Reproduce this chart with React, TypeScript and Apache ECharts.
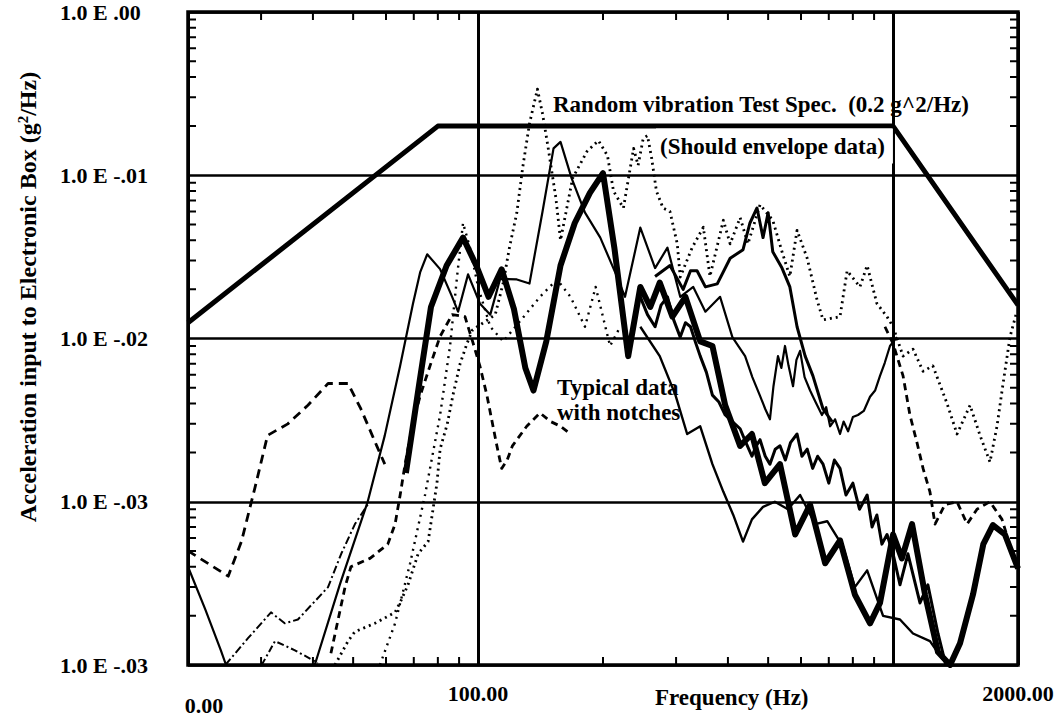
import React, { useEffect, useRef } from 'react';
import * as echarts from 'echarts';

// Chart size and plot frame
const WIDTH = 1063;
const HEIGHT = 716;
const GRID = { left: 188, right: 45, top: 12, bottom: 44 };

// Axis ranges (log scales)
const X_MIN = 20;
const X_MAX = 2000;
const Y_MIN = 1e-4;
const Y_MAX = 1;

// Printed tick labels
const xTickLabels: Record<number, string> = { 20: '0.00', 100: '100.00', 2000: '2000.00' };
const yTickLabels = ['1.0 E -.03', '1.0 E -.03', '1.0 E -.02', '1.0 E -.01', '1.0 E .00'];

// Minor tick marks drawn around the frame
const xMinorTicks = [30, 40, 50, 60, 70, 80, 90, 200, 300, 400, 500, 600, 700, 800, 900];
const yMinorTicks = [
  0.0002, 0.0003, 0.0004, 0.0005, 0.0006, 0.0007, 0.0008, 0.0009,
  0.002, 0.003, 0.004, 0.005, 0.006, 0.007, 0.008, 0.009,
  0.02, 0.03, 0.04, 0.05, 0.06, 0.07, 0.08, 0.09,
  0.2, 0.3, 0.4, 0.5, 0.6, 0.7, 0.8, 0.9,
];

// Random vibration test specification [Hz, g^2/Hz]
const specEnvelope = [[20, 0.0125], [80, 0.2], [1000, 0.2], [2000, 0.016]];

// Measured responses [Hz, g^2/Hz]
const notchedResponse = [
  [67, 0.0015], [72, 0.0051], [77, 0.0156], [84, 0.028], [92, 0.0415], [99, 0.028], [106, 0.018],
  [114, 0.0265], [122, 0.0152], [130, 0.0066], [136, 0.0048], [146, 0.0096], [158, 0.028], [171, 0.051],
  [186, 0.078], [200, 0.103], [213, 0.036], [230, 0.0078], [246, 0.0207], [260, 0.0156], [274, 0.022],
  [294, 0.0136], [316, 0.018], [343, 0.0096], [367, 0.009], [394, 0.0039], [428, 0.0022], [457, 0.0026],
  [491, 0.0013], [534, 0.0017], [581, 0.00063], [631, 0.00096], [686, 0.00042], [745, 0.00058],
  [809, 0.00027], [880, 0.00018], [930, 0.00024], [1000, 0.00063], [1050, 0.00045], [1111, 0.00073],
  [1194, 0.00027], [1283, 0.00012], [1372, 0.0001], [1450, 0.000136], [1558, 0.00027], [1650, 0.00055],
  [1740, 0.00072], [1860, 0.00063], [2000, 0.00039],
];

const upperResponse = [
  [40.4, 0.0001], [46.5, 0.000314], [54.2, 0.001], [59.6, 0.00255], [64.9, 0.0068], [69.7, 0.0164],
  [72.5, 0.0254], [75.4, 0.0328], [81, 0.0266], [86.6, 0.018], [89.5, 0.0146], [94.6, 0.0247],
  [101, 0.0164], [107, 0.014], [113, 0.0232], [124, 0.023], [133, 0.0217], [143, 0.06], [152, 0.146],
  [158, 0.16], [168, 0.096], [181, 0.059], [197, 0.0415], [214, 0.0254], [226, 0.018], [246, 0.0478],
  [267, 0.027], [286, 0.036], [307, 0.018], [330, 0.0207], [353, 0.0146], [383, 0.018], [410, 0.0102],
  [440, 0.0078], [458, 0.0058], [478, 0.00445], [492, 0.0037], [505, 0.0032], [515, 0.0051],
  [528, 0.0078], [538, 0.0066], [549, 0.009], [560, 0.0068], [574, 0.0051], [585, 0.0074],
  [597, 0.0084], [612, 0.0058], [631, 0.0048], [650, 0.0041], [674, 0.0034], [690, 0.0038],
  [705, 0.0029], [725, 0.0032], [745, 0.0026], [760, 0.0031], [779, 0.0027], [800, 0.0033],
  [823, 0.0034], [850, 0.0036], [880, 0.0044], [905, 0.0048], [930, 0.0059], [955, 0.0071],
  [983, 0.009], [1022, 0.0102],
];

const lowFreqDashed = [
  [20, 0.0005], [25, 0.00035], [26.9, 0.00057], [29, 0.00122], [31.1, 0.00255], [34.8, 0.003],
  [38.9, 0.0039], [43.5, 0.0053], [48.6, 0.0053], [52.2, 0.0037], [57, 0.0022], [59.6, 0.0017],
];

const risingDashed = [
  [44.2, 0.000118], [46, 0.00019], [47.8, 0.0003], [49.4, 0.0004], [54.9, 0.00045], [60.6, 0.00055],
  [63.1, 0.00073], [64.9, 0.0011], [66.7, 0.0017], [69.4, 0.0029], [72.5, 0.00445], [76.6, 0.0068],
  [81, 0.0103], [86.6, 0.014], [93, 0.0136], [97, 0.0096], [101, 0.0068], [105, 0.0045], [111, 0.0022],
  [114, 0.0016], [117.5, 0.0018], [121, 0.0022], [131, 0.0029], [141, 0.0035], [149.5, 0.0031],
  [158, 0.0029], [167, 0.0026],
];

const peakDotted = [
  [45.2, 0.0001], [48.6, 0.00014], [50.5, 0.00016], [56.4, 0.00018], [63.1, 0.00021], [65.3, 0.00025],
  [67.8, 0.00031], [71.7, 0.00048], [75.8, 0.00057], [79.6, 0.0013], [81, 0.0021], [84.3, 0.003],
  [87, 0.0045], [90.5, 0.007], [94, 0.0093], [97, 0.0113], [104, 0.0127], [110, 0.014], [115, 0.022],
  [119, 0.036], [124, 0.059], [128, 0.11], [133, 0.207], [139, 0.337], [143, 0.238], [147, 0.156],
  [154, 0.0725], [158, 0.04], [169, 0.096], [183, 0.14], [195, 0.163], [205, 0.132], [212, 0.08],
  [224, 0.063], [237, 0.146], [243, 0.115], [250, 0.168], [256, 0.175], [262, 0.127], [269, 0.08],
  [279, 0.063], [290, 0.06], [302, 0.038], [307, 0.0238], [328, 0.036], [349, 0.048], [362, 0.024],
  [390, 0.053], [405, 0.038], [428, 0.055], [447, 0.038], [478, 0.066], [513, 0.053], [540, 0.034],
  [564, 0.024], [587, 0.046], [621, 0.031], [656, 0.0172], [678, 0.013], [745, 0.0136], [775, 0.026],
  [832, 0.0207], [866, 0.028], [914, 0.0164], [967, 0.0136], [1000, 0.0118], [1057, 0.0078],
  [1117, 0.0086], [1181, 0.0063], [1247, 0.0068], [1349, 0.004], [1426, 0.0026], [1533, 0.0039],
  [1620, 0.00255], [1712, 0.00175], [1780, 0.0029], [1841, 0.0053], [1913, 0.0102], [1986, 0.0146],
];

const midDotted = [
  [58, 0.0001], [63.1, 0.00018], [68.6, 0.00042], [74.5, 0.0011], [81, 0.0034], [85.6, 0.009],
  [89, 0.024], [92, 0.051], [95.6, 0.036], [100, 0.0207], [107, 0.0118], [115, 0.0096], [126, 0.0127],
  [141, 0.018], [155, 0.023], [167, 0.018], [181, 0.0118], [192, 0.0207], [208, 0.009], [220, 0.0118],
];

const highFreqDashed = [
  [956, 0.0118], [1000, 0.0093], [1057, 0.0059], [1098, 0.0034], [1142, 0.0023], [1181, 0.0016],
  [1227, 0.00115], [1262, 0.00073], [1333, 0.00096], [1426, 0.001], [1508, 0.00073], [1593, 0.0009],
  [1712, 0.001], [1830, 0.00078], [1940, 0.00048],
];

const lowLeftSolid = [[20, 0.0004], [22, 0.00022], [24, 0.000123], [24.7, 0.0001]];

const lowLeftDashDot = [
  [24.6, 0.0001], [27.9, 0.000146], [31.7, 0.00021], [34.2, 0.00018], [36.8, 0.00019], [43.5, 0.0003],
  [46.8, 0.00048], [50.5, 0.00073], [54.2, 0.00096],
];

const floorHump = [[30.1, 0.0001], [32.4, 0.00014], [36.2, 0.000123], [41.1, 0.000103]];

const lowerSolid = [
  [246, 0.0118], [274, 0.0078], [299, 0.0045], [319, 0.0026], [343, 0.0029], [367, 0.0017],
  [390, 0.00115], [412, 0.00083], [435, 0.00057], [457, 0.00078], [486, 0.00093], [519, 0.001],
  [558, 0.0009], [597, 0.0011], [649, 0.00073], [694, 0.00076], [758, 0.00053], [809, 0.0003],
  [866, 0.00038], [946, 0.0002], [1039, 0.00019], [1117, 0.000156], [1227, 0.00014], [1311, 0.00011],
  [1360, 0.0001],
];

const middleBand = [
  [246, 0.018], [256, 0.014], [267, 0.0118], [276, 0.016], [286, 0.018], [296, 0.013], [307, 0.0102],
  [316, 0.0125], [325, 0.0118], [334, 0.0095], [343, 0.0078], [355, 0.0062], [367, 0.0045],
  [380, 0.0041], [394, 0.0034], [410, 0.0031], [428, 0.0028], [442, 0.0023], [457, 0.0019],
  [468, 0.0022], [478, 0.0024], [492, 0.0019], [505, 0.0017], [520, 0.0021], [534, 0.0022],
  [550, 0.0018], [566, 0.0023], [587, 0.0026], [603, 0.0019], [621, 0.0021], [640, 0.0016],
  [658, 0.0019], [678, 0.0017], [700, 0.0013], [722, 0.0018], [745, 0.0016], [770, 0.0011],
  [800, 0.0013], [830, 0.0009], [866, 0.0011], [890, 0.0007], [914, 0.00083], [940, 0.00055],
  [967, 0.00063], [1000, 0.00048], [1039, 0.00031], [1086, 0.00048], [1161, 0.00024], [1213, 0.00031],
  [1283, 0.000156], [1340, 0.0001],
];

const upperBand = [
  [267, 0.024], [290, 0.028], [312, 0.02], [325, 0.026], [337, 0.026], [353, 0.0207], [377, 0.0216],
  [405, 0.031], [435, 0.035], [452, 0.051], [470, 0.063], [486, 0.0415], [500, 0.059], [513, 0.034],
  [540, 0.027], [564, 0.0207], [587, 0.0118], [614, 0.0078], [641, 0.0059], [678, 0.0037], [713, 0.0031],
];

const SERIF = '"Liberation Serif", "Times New Roman", serif';
const TICK_LEN = 8;

// A tick of TICK_LEN pixels expressed as a multiplicative step on each log axis
const plotW = WIDTH - GRID.left - GRID.right;
const plotH = HEIGHT - GRID.top - GRID.bottom;
const xTickStep = Math.pow(X_MAX / X_MIN, TICK_LEN / plotW);
const yTickStep = Math.pow(Y_MAX / Y_MIN, TICK_LEN / plotH);

// Tick segments separated by gaps, so each edge is one line series
const bottomTicks = xMinorTicks.flatMap((f) => [[f, Y_MIN], [f, Y_MIN * yTickStep], [f, '-']]);
const topTicks = xMinorTicks.flatMap((f) => [[f, Y_MAX], [f, Y_MAX / yTickStep], [f, '-']]);
const leftTicks = yMinorTicks.flatMap((v) => [[X_MIN, v], [X_MIN * xTickStep, v], ['-', v]]);
const rightTicks = yMinorTicks.flatMap((v) => [[X_MAX, v], [X_MAX / xTickStep, v], ['-', v]]);

const trace = (name: string, data: any[], width: number, type: any, z = 3) => ({
  type: 'line',
  name,
  data,
  symbol: 'none',
  showSymbol: false,
  silent: true,
  clip: true,
  connectNulls: false,
  z,
  lineStyle: { color: '#000', width, type, cap: 'butt', join: 'round' },
});

const labelFont = { fontFamily: SERIF, fontWeight: 'bold' as const, fontSize: 22, color: '#000' };
const noteFont = { fontFamily: SERIF, fontWeight: 'bold', fontSize: 23, fill: '#000' };

const option: any = {
  animation: false,
  backgroundColor: '#fff',
  grid: {
    ...GRID,
    show: true,
    borderColor: '#000',
    borderWidth: 3.5,
    backgroundColor: 'transparent',
  },
  xAxis: {
    type: 'log',
    logBase: 10,
    min: X_MIN,
    max: X_MAX,
    axisLine: { show: false },
    axisTick: { show: false },
    splitLine: { show: true, lineStyle: { color: '#000', width: 3 } },
    axisLabel: {
      show: true,
      showMinLabel: true,
      showMaxLabel: true,
      margin: 17,
      ...labelFont,
      formatter: (v: number) => {
        const r = Math.round(v);
        if (r === 20) return '{lo|' + xTickLabels[20] + '}';
        if (r === 100) return '{mid|' + xTickLabels[100] + '}';
        if (r === 2000) return '{hi|' + xTickLabels[2000] + '}';
        return '';
      },
      rich: {
        lo: { ...labelFont, padding: [12, 0, 0, 32] },
        mid: { ...labelFont },
        hi: { ...labelFont, padding: [0, 0, 8, 0] },
      },
    },
  },
  yAxis: {
    type: 'log',
    logBase: 10,
    min: Y_MIN,
    max: Y_MAX,
    axisLine: { show: false },
    axisTick: { show: false },
    splitLine: { show: true, lineStyle: { color: '#000', width: 2.5 } },
    axisLabel: {
      show: true,
      showMinLabel: true,
      showMaxLabel: true,
      margin: 31,
      ...labelFont,
      formatter: (v: number) => {
        const e = Math.round(Math.log10(v));
        return '{t|' + (yTickLabels[e + 4] ?? '') + '}';
      },
      rich: {
        t: { ...labelFont, width: 97, align: 'left' },
      },
    },
  },
  graphic: [
    {
      type: 'text',
      x: 28,
      y: 297,
      rotation: Math.PI / 2,
      z: 100,
      style: {
        text: '{a|Acceleration input to Electronic Box (g}{s|2}{a|/Hz)}',
        align: 'center',
        verticalAlign: 'middle',
        rich: {
          a: { fontFamily: SERIF, fontWeight: 'bold', fontSize: 24, lineHeight: 26, fill: '#000' },
          s: { fontFamily: SERIF, fontWeight: 'bold', fontSize: 15, lineHeight: 14, fill: '#000', verticalAlign: 'top' },
        },
      },
    },
    {
      type: 'text',
      x: 655,
      y: 697,
      z: 100,
      style: { text: 'Frequency (Hz)', ...noteFont, align: 'left', verticalAlign: 'middle' },
    },
    {
      type: 'text',
      x: 553,
      y: 104,
      z: 100,
      style: { text: 'Random vibration Test Spec.  (0.2 g^2/Hz)', ...noteFont, align: 'left', verticalAlign: 'middle' },
    },
    {
      type: 'text',
      x: 656,
      y: 146,
      z: 100,
      style: {
        text: '(Should envelope data)',
        ...noteFont,
        align: 'left',
        verticalAlign: 'middle',
        backgroundColor: '#fff',
        padding: [6, 8, 6, 4],
      },
    },
    {
      type: 'text',
      x: 557,
      y: 400,
      z: 100,
      style: {
        text: 'Typical data\nwith notches',
        ...noteFont,
        lineHeight: 25,
        align: 'left',
        verticalAlign: 'middle',
      },
    },
  ],
  series: [
    trace('Bottom ticks', bottomTicks, 2, 'solid', 6),
    trace('Top ticks', topTicks, 2, 'solid', 6),
    trace('Left ticks', leftTicks, 2, 'solid', 6),
    trace('Right ticks', rightTicks, 2, 'solid', 6),
    trace('Floor hump', floorHump, 2, [7, 3, 2, 3]),
    trace('Low-left solid', lowLeftSolid, 2.2, 'solid'),
    trace('Low-left dash-dot', lowLeftDashDot, 2, [8, 3, 2, 3]),
    trace('Low-frequency dashed', lowFreqDashed, 2.8, [9, 6]),
    trace('Rising dashed', risingDashed, 2.8, [7, 5]),
    trace('Peak dotted', peakDotted, 2.8, [2, 4]),
    trace('Mid dotted', midDotted, 2.4, [2, 5]),
    trace('High-frequency dashed', highFreqDashed, 2.8, [7, 5]),
    trace('Lower solid', lowerSolid, 2.4, 'solid'),
    trace('Middle band', middleBand, 3, 'solid'),
    trace('Upper band', upperBand, 3, 'solid'),
    trace('Upper response', upperResponse, 2.2, 'solid'),
    trace('Typical data with notches', notchedResponse, 6, 'solid', 4),
    trace('Test spec', specEnvelope, 5, 'solid', 5),
  ],
};

export default function App() {
  const ref = useRef<HTMLDivElement>(null);
  useEffect(() => {
    if (!ref.current) return;
    const chart = echarts.init(ref.current, null, { renderer: 'svg' });
    chart.setOption(option);
    return () => chart.dispose();
  }, []);
  return (
    <div
      ref={ref}
      style={{ position: 'absolute', left: 0, top: 0, width: WIDTH, height: HEIGHT, background: '#fff' }}
    />
  );
}
